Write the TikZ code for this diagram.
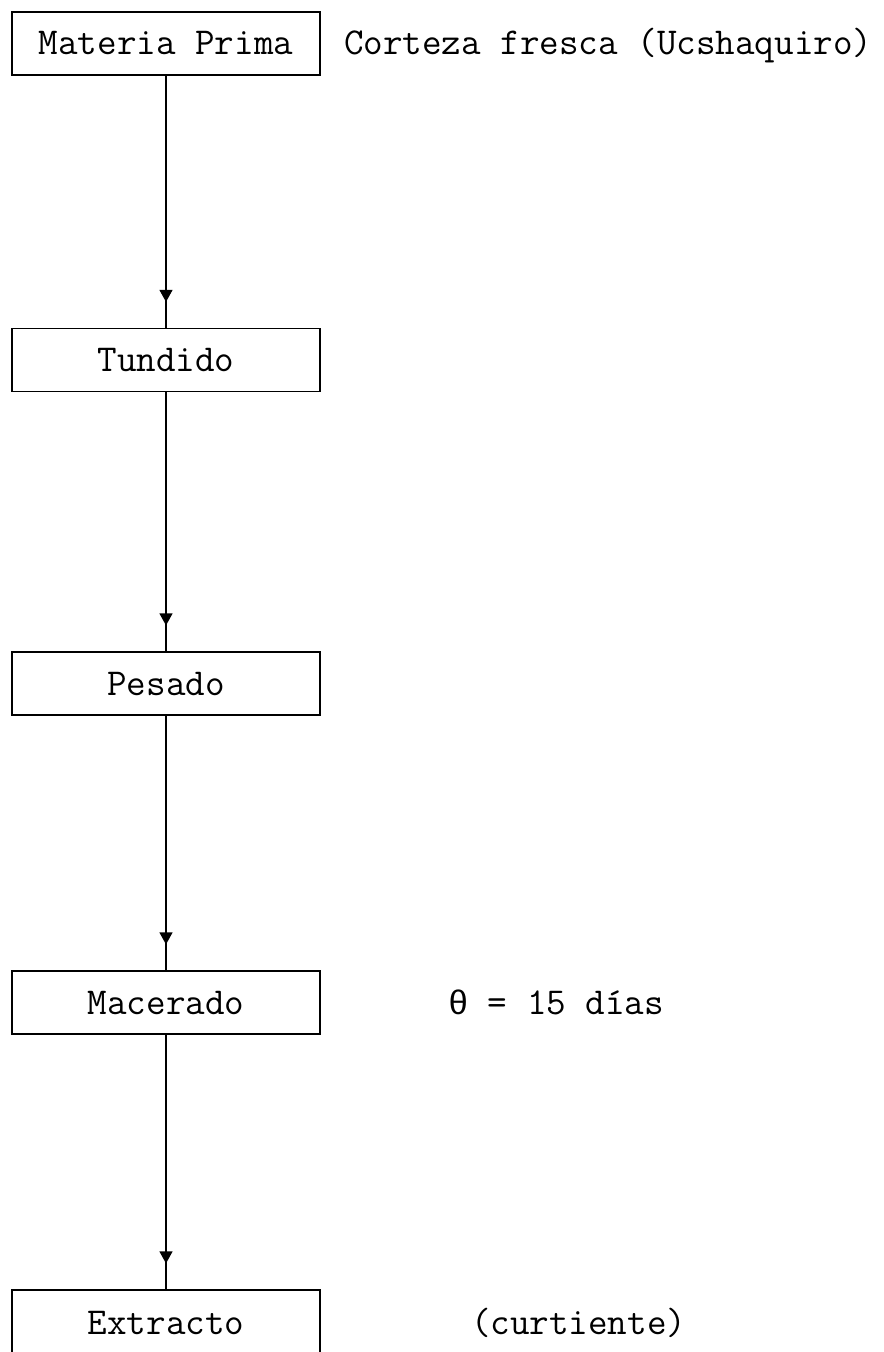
\documentclass[tikz,border=0pt]{standalone}
\usepackage{fontspec}
\newfontfamily\greekmono{Liberation Mono}
\usetikzlibrary{arrows.meta,decorations.markings}

\tikzset{
  stepbox/.style={draw, line width=0.6pt, minimum width=154pt, minimum height=31.5pt, inner sep=0pt},
  note/.style={anchor=base west, inner sep=0pt},
  flow/.style={line width=0.6pt, postaction={decorate},
    decoration={markings, mark=at position -13pt with {\arrow{Triangle[width=6.5pt,length=6pt]}}}}
}

\begin{document}
\begin{tikzpicture}[x=0.5pt, y=-0.5pt, font=\ttfamily\fontsize{19}{23}\selectfont]
\useasboundingbox (0,0) rectangle (883,1352);
\node[stepbox] (mp) at (166,43.5) {Materia Prima};
\node[stepbox] (tun) at (166,360) {Tundido};
\node[stepbox] (pes) at (166,683.5) {Pesado};
\node[stepbox] (mac) at (166,1002.5) {Macerado};
\node[stepbox, minimum height=33pt] (ext) at (166,1323) {Extracto};
\node[note] (cf) at ([xshift=11.5pt]mp.base east) {Corteza fresca (Ucshaquiro)};
\node[note] (th) at ([xshift=63.5pt]mac.base east) {{\greekmono\fontsize{17}{20}\selectfont θ} = 15 días};
\node[note] (cu) at ([xshift=75pt]ext.base east) {(curtiente)};
\foreach \a/\b in {mp/tun, tun/pes, pes/mac, mac/ext}
  \draw[flow] (\a.south) -- (\b.north);
\end{tikzpicture}
\end{document}
